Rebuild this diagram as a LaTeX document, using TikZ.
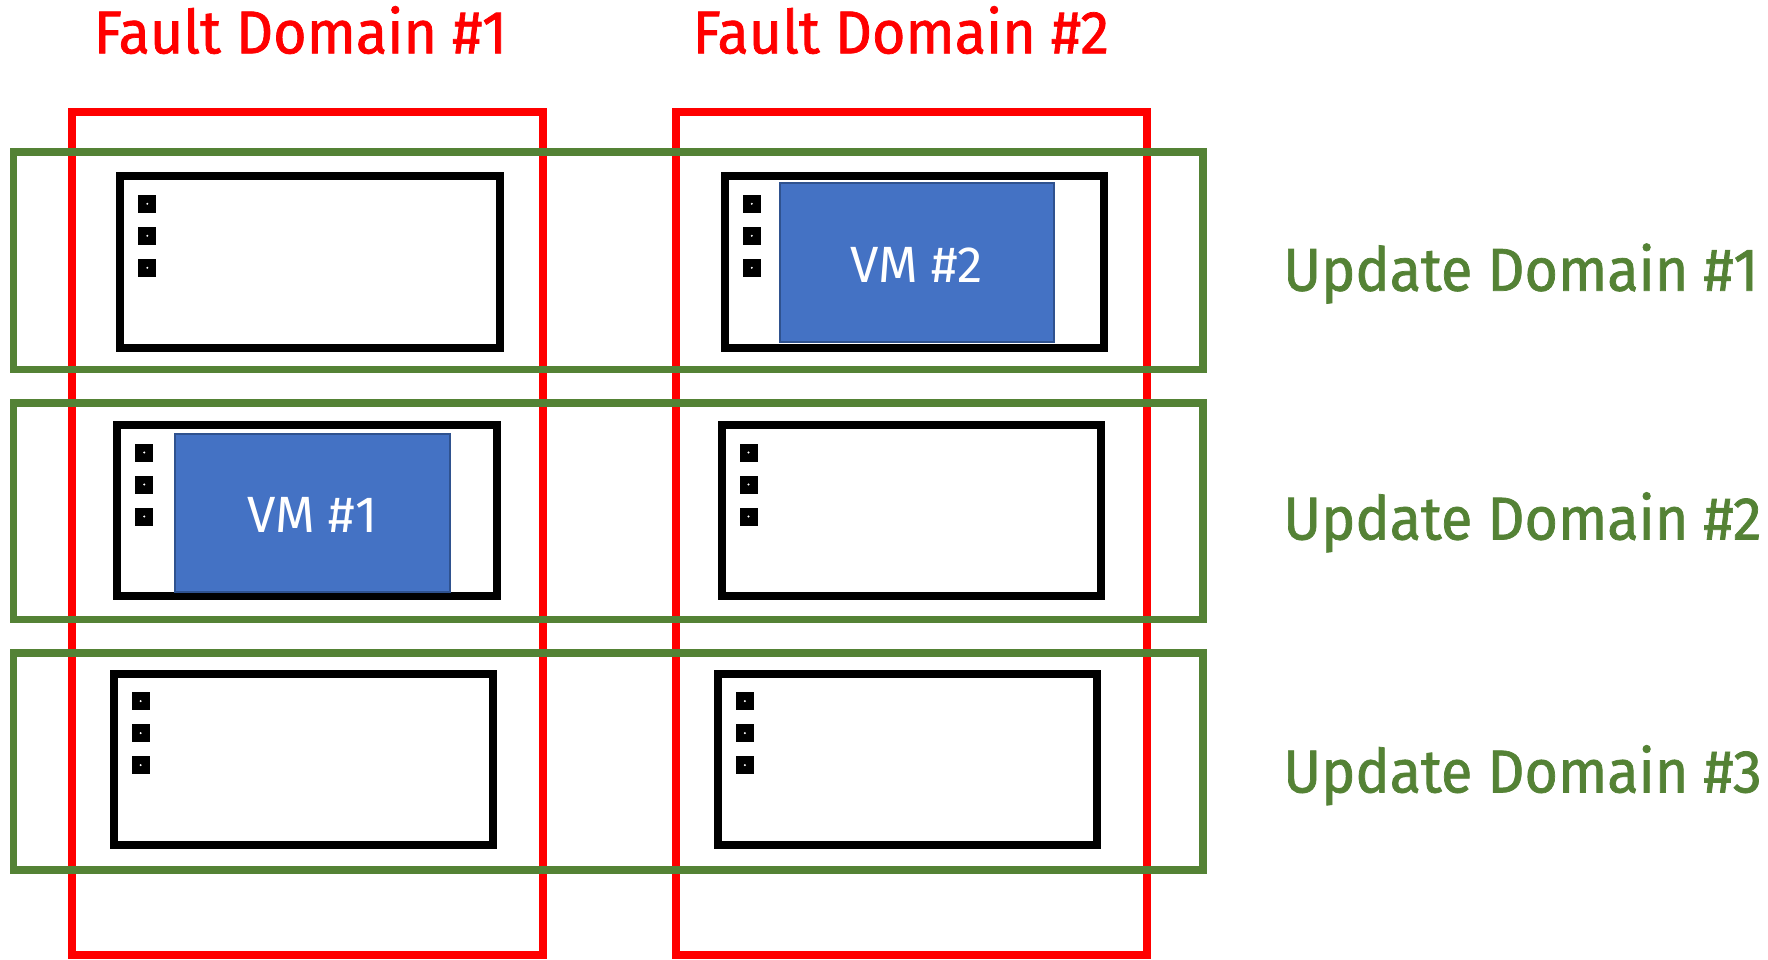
\documentclass[tikz,border=0pt]{standalone}
\usepackage{fontspec}
\setmainfont{Fira Sans}
\newfontfamily\titlefont[FakeStretch=0.95,FakeBold=1.2]{Fira Sans}
\definecolor{udgreen}{HTML}{548235}
\definecolor{vmblue}{HTML}{4472C4}
\definecolor{vmborder}{HTML}{2F528F}
\tikzset{
  fdrect/.style={draw=red, line width=8pt},
  udrect/.style={draw=udgreen, line width=7.7pt},
  hostbox/.style={draw=black, line width=8pt, fill=white},
  vmbox/.style={draw=vmborder, line width=2pt, fill=vmblue},
  fdtitle/.style={text=red, inner sep=0pt, font=\titlefont\fontsize{60.5}{60.5}\selectfont, anchor=base},
  udtitle/.style={text=udgreen, inner sep=0pt, font=\titlefont\fontsize{60.5}{60.5}\selectfont, anchor=base west},
  vmtext/.style={text=white, inner sep=0pt, font=\fontsize{51}{51}\selectfont, anchor=base},
}
\newcommand{\hostleds}[2]{%
  \foreach \k in {0,1,2}{
    \fill[black] (#1+18,#2+18.5+32*\k) rectangle (#1+36,#2+36.5+32*\k);
    \fill[white] (#1+27,#2+27.5+32*\k) circle (1.1);
  }%
}
\begin{document}
\begin{tikzpicture}[x=1pt,y=-1pt]
\useasboundingbox (0,0) rectangle (1768,959);
% host boxes
\draw[hostbox] (120.3,176.3) rectangle (499.8,347.8);
\draw[hostbox] (724.8,176.3) rectangle (1103.8,347.8);
\draw[hostbox] (117.3,425) rectangle (496.6,596.4);
\draw[hostbox] (721.5,425) rectangle (1100.8,596.4);
\draw[hostbox] (113.7,673.6) rectangle (493.3,845.1);
\draw[hostbox] (717.9,673.6) rectangle (1097.3,845.1);
\hostleds{120.3}{176.3}
\hostleds{724.8}{176.3}
\hostleds{117.3}{425}
\hostleds{721.5}{425}
\hostleds{113.7}{673.6}
\hostleds{717.9}{673.6}
% VMs
\draw[vmbox] (779.5,183.3) rectangle (1053.9,341.7);
\draw[vmbox] (175.3,434.2) rectangle (449.7,591.8);
\node[vmtext] (vm2) at (916.7,282.7) {VM \#2};
\node[vmtext] (vm1) at (312.5,532.6) {VM \#1};
% fault domains
\draw[fdrect] (71.6,111.5) rectangle (542.5,955.2);
\draw[fdrect] (675.6,111.5) rectangle (1146.6,955.2);
% update domains
\draw[udrect] (13.4,152) rectangle (1203,369.4);
\draw[udrect] (13.4,403.2) rectangle (1203,619.6);
\draw[udrect] (13.4,652.8) rectangle (1203,869.8);
% titles
\node[fdtitle] (fd1) at (300.4,53.3) {Fault Domain \#1};
\node[fdtitle] (fd2) at (900.8,53.3) {Fault Domain \#2};
\node[udtitle] (ud1) at (1283,290.7) {Update Domain \#1};
\node[udtitle] (ud2) at (1283,539.5) {Update Domain \#2};
\node[udtitle] (ud3) at (1283,792.4) {Update Domain \#3};
\end{tikzpicture}
\end{document}
